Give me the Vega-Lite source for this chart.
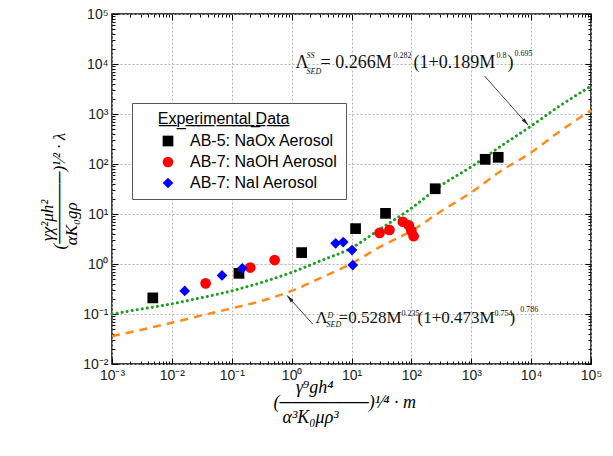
{
  "$schema": "https://vega.github.io/schema/vega-lite/v6.json",
  "width": 479,
  "height": 350,
  "autosize": {"type": "none"},
  "padding": {"left": 112, "top": 14, "right": 22, "bottom": 92},
  "background": "white",
  "config": {
    "font": "Liberation Sans",
    "view": {"stroke": "#000", "strokeWidth": 1.5},
    "axis": {"tickColor": "#000", "tickWidth": 1, "labelFont": "Liberation Sans", "labelFontSize": 14, "labelColor": "#222"}
  },
  "datasets": {
    "pts": [
      {"series": "AB-5: NaOx Aerosol", "m": 0.0048, "lam": 0.21},
      {"series": "AB-5: NaOx Aerosol", "m": 0.132, "lam": 0.65},
      {"series": "AB-5: NaOx Aerosol", "m": 1.47, "lam": 1.69},
      {"series": "AB-5: NaOx Aerosol", "m": 11.7, "lam": 5.1},
      {"series": "AB-5: NaOx Aerosol", "m": 37, "lam": 10.3},
      {"series": "AB-5: NaOx Aerosol", "m": 250, "lam": 32},
      {"series": "AB-5: NaOx Aerosol", "m": 1710, "lam": 124},
      {"series": "AB-5: NaOx Aerosol", "m": 2820, "lam": 136},
      {"series": "AB-7: NaOH Aerosol", "m": 0.0366, "lam": 0.41},
      {"series": "AB-7: NaOH Aerosol", "m": 0.204, "lam": 0.85},
      {"series": "AB-7: NaOH Aerosol", "m": 0.52, "lam": 1.2},
      {"series": "AB-7: NaOH Aerosol", "m": 29.5, "lam": 4.2},
      {"series": "AB-7: NaOH Aerosol", "m": 43, "lam": 4.8},
      {"series": "AB-7: NaOH Aerosol", "m": 72, "lam": 7.0},
      {"series": "AB-7: NaOH Aerosol", "m": 91, "lam": 5.9},
      {"series": "AB-7: NaOH Aerosol", "m": 100, "lam": 4.6},
      {"series": "AB-7: NaOH Aerosol", "m": 109, "lam": 3.6},
      {"series": "AB-7: NaI Aerosol", "m": 0.0164, "lam": 0.29},
      {"series": "AB-7: NaI Aerosol", "m": 0.0687, "lam": 0.59},
      {"series": "AB-7: NaI Aerosol", "m": 0.15, "lam": 0.82},
      {"series": "AB-7: NaI Aerosol", "m": 5.43, "lam": 2.59},
      {"series": "AB-7: NaI Aerosol", "m": 7.28, "lam": 2.75},
      {"series": "AB-7: NaI Aerosol", "m": 10.2, "lam": 1.9},
      {"series": "AB-7: NaI Aerosol", "m": 10.5, "lam": 0.95}
    ],
    "green": [
      {"m": 0.001, "lam": 0.1}, {"m": 0.003, "lam": 0.125}, {"m": 0.01, "lam": 0.16},
      {"m": 0.03, "lam": 0.21}, {"m": 0.1, "lam": 0.29}, {"m": 0.3, "lam": 0.42},
      {"m": 1, "lam": 0.68}, {"m": 3, "lam": 1.15}, {"m": 10, "lam": 2.1},
      {"m": 30, "lam": 5.0}, {"m": 100, "lam": 13}, {"m": 300, "lam": 36},
      {"m": 1000, "lam": 88}, {"m": 3000, "lam": 220}, {"m": 10000, "lam": 575},
      {"m": 30000, "lam": 1450}, {"m": 100000, "lam": 3600}
    ],
    "orange": [
      {"m": 0.001, "lam": 0.036}, {"m": 0.003, "lam": 0.048}, {"m": 0.01, "lam": 0.067},
      {"m": 0.03, "lam": 0.092}, {"m": 0.1, "lam": 0.13}, {"m": 0.3, "lam": 0.18},
      {"m": 1, "lam": 0.29}, {"m": 3, "lam": 0.52}, {"m": 10, "lam": 1.02},
      {"m": 30, "lam": 2.2}, {"m": 100, "lam": 4.6}, {"m": 300, "lam": 11},
      {"m": 1000, "lam": 27}, {"m": 3000, "lam": 70}, {"m": 10000, "lam": 170},
      {"m": 30000, "lam": 450}, {"m": 100000, "lam": 1180}
    ],
    "arrows": [
      {"m": 1667, "lam": 5754, "m2": 8875, "lam2": 603},
      {"m": 2.268, "lam": 0.0622, "m2": 0.841, "lam2": 0.234}
    ],
    "headSS": [{"m": 8035, "lam": 692}],
    "headD": [{"m": 0.933, "lam": 0.204}],
    "ssMain": [
      {"t": "Λ", "m": 1.166, "lam": 8318},
      {"t": "= 0.266M", "m": 3.049, "lam": 8318},
      {"t": "(1+0.189M", "m": 108.8, "lam": 8318},
      {"t": ")", "m": 4036, "lam": 8318}
    ],
    "dMain": [
      {"t": "Λ", "m": 2.515, "lam": 0.0661},
      {"t": "=0.528M", "m": 6.09, "lam": 0.0661},
      {"t": "(1+0.473M", "m": 126.9, "lam": 0.0661},
      {"t": ")", "m": 4359, "lam": 0.0661}
    ],
    "small": [
      {"t": "0.282", "m": 50.4, "lam": 13200},
      {"t": "0.8", "m": 2645, "lam": 13200},
      {"t": "0.695", "m": 5284, "lam": 14500},
      {"t": "0.235", "m": 68.6, "lam": 0.091},
      {"t": "0.754", "m": 2449, "lam": 0.091},
      {"t": "0.786", "m": 6600, "lam": 0.108}
    ],
    "smallItalic": [
      {"t": "SS", "m": 1.78, "lam": 13000},
      {"t": "SED", "m": 1.78, "lam": 6300},
      {"t": "D", "m": 3.99, "lam": 0.083},
      {"t": "SED", "m": 3.839, "lam": 0.055}
    ]
  },
  "layer": [
    {
      "data": {"name": "green"},
      "mark": {"type": "line", "color": "#1e9e1e", "strokeWidth": 3, "strokeDash": [0.1, 5], "strokeCap": "round", "interpolate": "monotone"},
      "encoding": {
        "x": {"field": "m", "type": "quantitative", "scale": {"type": "log", "domain": [0.001, 100000], "nice": false},
          "axis": {"orient": "bottom", "values": [0.001, 0.01, 0.1, 1, 10, 100, 1000, 10000, 100000],
            "labelExpr": "'10' + (round(log(datum.value)/LN10) < 0 ? '⁻' : '') + ['⁰','¹','²','³','⁴','⁵'][abs(round(log(datum.value)/LN10))]",
            "ticks": false, "domain": false, "grid": true, "gridColor": "#b3b3b3", "gridDash": [2, 2], "gridWidth": 1,
            "labelPadding": 4, "labelFlush": false, "labelOverlap": false, "labelBound": false,
            "title": ["\u200b\u00a0\u00a0\u00a0\u00a0\u00a0γ⁹gh⁴", "(───────)¹⁄⁴ · m", "\u200b\u00a0\u00a0α³K₀μρ³"],
            "titleFont": "Liberation Serif", "titleFontStyle": "italic", "titleFontWeight": "normal", "titleFontSize": 18,
            "titleLineHeight": 15, "titleAlign": "left", "titleBaseline": "middle", "titleX": 161, "titleY": 23, "titleColor": "#000"}},
        "y": {"field": "lam", "type": "quantitative", "scale": {"type": "log", "domain": [0.01, 100000], "nice": false},
          "axis": {"orient": "left", "values": [0.01, 0.1, 1, 10, 100, 1000, 10000, 100000],
            "labelExpr": "'10' + (round(log(datum.value)/LN10) < 0 ? '⁻' : '') + ['⁰','¹','²','³','⁴','⁵'][abs(round(log(datum.value)/LN10))]",
            "ticks": false, "domain": false, "grid": true, "gridColor": "#b3b3b3", "gridDash": [2, 2], "gridWidth": 1,
            "labelPadding": 4, "labelFlush": false, "labelOverlap": false, "labelBound": false,
            "title": ["\u200b\u00a0\u00a0γχ²μh²", "(──────)¹⁄² · λ", "\u200b\u00a0αK₀gρ"],
            "titleFont": "Liberation Serif", "titleFontStyle": "italic", "titleFontWeight": "normal", "titleFontSize": 17,
            "titleLineHeight": 12, "titleAlign": "left", "titleBaseline": "middle", "titleAngle": -90, "titleX": -65, "titleY": 235, "titleColor": "#000"}}
      }
    },
    {
      "data": {"name": "orange"},
      "mark": {"type": "line", "color": "#ff8c1a", "strokeWidth": 2.5, "strokeDash": [8, 6], "interpolate": "monotone"},
      "encoding": {
        "x": {"field": "m", "type": "quantitative", "scale": {"type": "log", "domain": [0.001, 100000], "nice": false},
          "axis": {"orient": "bottom", "offset": -6, "values": [0.001, 0.01, 0.1, 1, 10, 100, 1000, 10000, 100000], "labels": false, "domain": false, "grid": false, "ticks": true, "tickSize": 6, "title": null}},
        "y": {"field": "lam", "type": "quantitative", "scale": {"type": "log", "domain": [0.01, 100000], "nice": false},
          "axis": {"orient": "left", "offset": -6, "values": [0.01, 0.1, 1, 10, 100, 1000, 10000, 100000], "labels": false, "domain": false, "grid": false, "ticks": true, "tickSize": 6, "title": null}}
      }
    },
    {
      "data": {"name": "arrows"},
      "mark": {"type": "rule", "color": "#444", "strokeWidth": 1},
      "encoding": {
        "x": {"field": "m", "type": "quantitative", "scale": {"type": "log", "domain": [0.001, 100000], "nice": false},
          "axis": {"orient": "bottom", "offset": -3, "values": [0.002,0.003,0.004,0.005,0.006,0.007,0.008,0.009,0.02,0.03,0.04,0.05,0.06,0.07,0.08,0.09,0.2,0.3,0.4,0.5,0.6,0.7,0.8,0.9,2,3,4,5,6,7,8,9,20,30,40,50,60,70,80,90,200,300,400,500,600,700,800,900,2000,3000,4000,5000,6000,7000,8000,9000,20000,30000,40000,50000,60000,70000,80000,90000], "labels": false, "domain": false, "grid": false, "ticks": true, "tickSize": 3, "title": null}},
        "y": {"field": "lam", "type": "quantitative", "scale": {"type": "log", "domain": [0.01, 100000], "nice": false},
          "axis": {"orient": "left", "offset": -3, "values": [0.02,0.03,0.04,0.05,0.06,0.07,0.08,0.09,0.2,0.3,0.4,0.5,0.6,0.7,0.8,0.9,2,3,4,5,6,7,8,9,20,30,40,50,60,70,80,90,200,300,400,500,600,700,800,900,2000,3000,4000,5000,6000,7000,8000,9000,20000,30000,40000,50000,60000,70000,80000,90000], "labels": false, "domain": false, "grid": false, "ticks": true, "tickSize": 3, "title": null}},
        "x2": {"field": "m2"},
        "y2": {"field": "lam2"}
      }
    },
    {
      "data": {"name": "ssMain"},
      "mark": {"type": "text", "font": "Liberation Serif", "fontSize": 18, "align": "left", "baseline": "alphabetic", "color": "#111"},
      "encoding": {
        "x": {"field": "m", "type": "quantitative", "scale": {"type": "log", "domain": [0.001, 100000], "nice": false},
          "axis": {"orient": "top", "offset": -6, "values": [0.001, 0.01, 0.1, 1, 10, 100, 1000, 10000, 100000], "labels": false, "domain": false, "grid": false, "ticks": true, "tickSize": 6, "title": null}},
        "y": {"field": "lam", "type": "quantitative", "scale": {"type": "log", "domain": [0.01, 100000], "nice": false},
          "axis": {"orient": "right", "offset": -6, "values": [0.01, 0.1, 1, 10, 100, 1000, 10000, 100000], "labels": false, "domain": false, "grid": false, "ticks": true, "tickSize": 6, "title": null}},
        "text": {"field": "t"}
      }
    },
    {
      "data": {"name": "dMain"},
      "mark": {"type": "text", "font": "Liberation Serif", "fontSize": 17, "align": "left", "baseline": "alphabetic", "color": "#111"},
      "encoding": {
        "x": {"field": "m", "type": "quantitative", "scale": {"type": "log", "domain": [0.001, 100000], "nice": false},
          "axis": {"orient": "top", "offset": -3, "values": [0.002,0.003,0.004,0.005,0.006,0.007,0.008,0.009,0.02,0.03,0.04,0.05,0.06,0.07,0.08,0.09,0.2,0.3,0.4,0.5,0.6,0.7,0.8,0.9,2,3,4,5,6,7,8,9,20,30,40,50,60,70,80,90,200,300,400,500,600,700,800,900,2000,3000,4000,5000,6000,7000,8000,9000,20000,30000,40000,50000,60000,70000,80000,90000], "labels": false, "domain": false, "grid": false, "ticks": true, "tickSize": 3, "title": null}},
        "y": {"field": "lam", "type": "quantitative", "scale": {"type": "log", "domain": [0.01, 100000], "nice": false},
          "axis": {"orient": "right", "offset": -3, "values": [0.02,0.03,0.04,0.05,0.06,0.07,0.08,0.09,0.2,0.3,0.4,0.5,0.6,0.7,0.8,0.9,2,3,4,5,6,7,8,9,20,30,40,50,60,70,80,90,200,300,400,500,600,700,800,900,2000,3000,4000,5000,6000,7000,8000,9000,20000,30000,40000,50000,60000,70000,80000,90000], "labels": false, "domain": false, "grid": false, "ticks": true, "tickSize": 3, "title": null}},
        "text": {"field": "t"}
      }
    },
    {
      "data": {"name": "small"},
      "mark": {"type": "text", "font": "Liberation Serif", "fontSize": 8, "align": "left", "baseline": "alphabetic", "color": "#111"},
      "encoding": {
        "x": {"field": "m", "type": "quantitative", "scale": {"type": "log", "domain": [0.001, 100000], "nice": false}, "axis": null},
        "y": {"field": "lam", "type": "quantitative", "scale": {"type": "log", "domain": [0.01, 100000], "nice": false}, "axis": null},
        "text": {"field": "t"}
      }
    },
    {
      "data": {"name": "smallItalic"},
      "mark": {"type": "text", "font": "Liberation Serif", "fontSize": 8, "fontStyle": "italic", "align": "left", "baseline": "alphabetic", "color": "#111"},
      "encoding": {
        "x": {"field": "m", "type": "quantitative", "scale": {"type": "log", "domain": [0.001, 100000], "nice": false}, "axis": null},
        "y": {"field": "lam", "type": "quantitative", "scale": {"type": "log", "domain": [0.01, 100000], "nice": false}, "axis": null},
        "text": {"field": "t"}
      }
    },
    {
      "data": {"name": "headSS"},
      "mark": {"type": "point", "shape": "M0,-1L0.4,0.8L-0.4,0.8Z", "filled": true, "color": "#222", "size": 80, "angle": 138.7, "opacity": 1},
      "encoding": {
        "x": {"field": "m", "type": "quantitative", "scale": {"type": "log", "domain": [0.001, 100000], "nice": false}, "axis": null},
        "y": {"field": "lam", "type": "quantitative", "scale": {"type": "log", "domain": [0.01, 100000], "nice": false}, "axis": null}
      }
    },
    {
      "data": {"name": "headD"},
      "mark": {"type": "point", "shape": "M0,-1L0.4,0.8L-0.4,0.8Z", "filled": true, "color": "#222", "size": 80, "angle": 318.2, "opacity": 1},
      "encoding": {
        "x": {"field": "m", "type": "quantitative", "scale": {"type": "log", "domain": [0.001, 100000], "nice": false}, "axis": null},
        "y": {"field": "lam", "type": "quantitative", "scale": {"type": "log", "domain": [0.01, 100000], "nice": false}, "axis": null}
      }
    },
    {
      "data": {"name": "pts"},
      "mark": {"type": "point", "filled": true, "opacity": 1},
      "encoding": {
        "x": {"field": "m", "type": "quantitative", "scale": {"type": "log", "domain": [0.001, 100000], "nice": false}, "axis": null},
        "y": {"field": "lam", "type": "quantitative", "scale": {"type": "log", "domain": [0.01, 100000], "nice": false}, "axis": null},
        "shape": {"field": "series", "type": "nominal",
          "scale": {"domain": ["AB-5: NaOx Aerosol", "AB-7: NaOH Aerosol", "AB-7: NaI Aerosol"], "range": ["square", "circle", "diamond"]},
          "legend": {"orient": "none", "legendX": 20, "legendY": 89,
            "title": "\u200b\u00a0\u00a0\u00a0\u00a0E̲x̲p̲e̲r̲i̲m̲e̲n̲t̲a̲l̲ ̲D̲a̲t̲a̲",
            "titleFont": "Liberation Sans", "titleFontSize": 16, "titleFontWeight": "normal", "titleColor": "#000", "titlePadding": 6,
            "labelFont": "Liberation Sans", "labelFontSize": 16, "labelColor": "#000",
            "fillColor": "#fff", "strokeColor": "#555", "padding": 8,
            "symbolOffset": 20, "labelOffset": 14, "rowPadding": 5}},
        "color": {"field": "series", "type": "nominal",
          "scale": {"domain": ["AB-5: NaOx Aerosol", "AB-7: NaOH Aerosol", "AB-7: NaI Aerosol"], "range": ["#000000", "#ff0000", "#0000ff"]}},
        "size": {"field": "series", "type": "nominal",
          "scale": {"domain": ["AB-5: NaOx Aerosol", "AB-7: NaOH Aerosol", "AB-7: NaI Aerosol"], "range": [115, 115, 150]}}
      }
    }
  ],
  "resolve": {"axis": {"x": "independent", "y": "independent"}}
}
